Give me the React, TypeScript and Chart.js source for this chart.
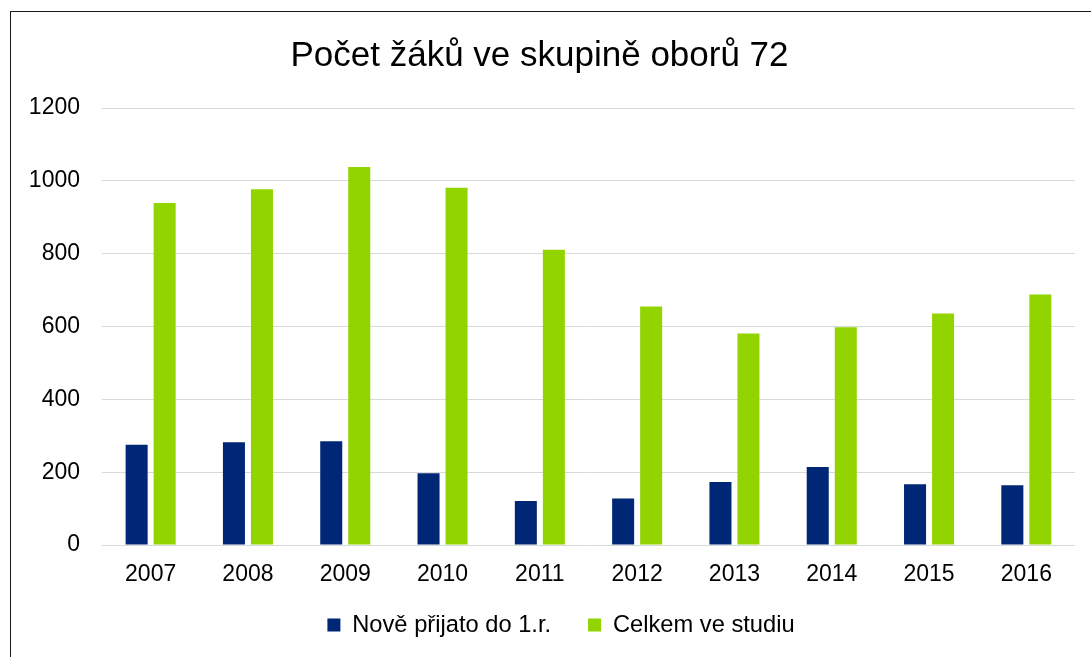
import React, { useEffect, useRef } from "react";
import { Chart, registerables } from "chart.js";

Chart.register(...registerables);

const title = "Počet žáků ve skupině oborů 72";
const years = ["2007", "2008", "2009", "2010", "2011", "2012", "2013", "2014", "2015", "2016"];
const noveLabel = "Nově přijato do 1.r.";
const noveValues = [275, 282, 285, 197, 121, 128, 173, 214, 167, 164];
const celkemLabel = "Celkem ve studiu";
const celkemValues = [939, 977, 1038, 981, 811, 655, 581, 598, 636, 688];
const yMin = 0;
const yMax = 1200;
const yStep = 200;

const FONT = '"Liberation Sans", Arial, sans-serif';
const NAVY = "#002776";
const GREEN = "#92d400";

// Nudge the legend horizontally and let the x labels draw below their (short) box.
const layoutTweak = {
  id: "layoutTweak",
  afterLayout(chart: any) {
    const lg = chart.legend;
    if (lg) {
      lg.left += 21.5;
      lg.right += 21.5;
    }
    const x = chart.scales.x;
    if (x) {
      x.bottom = x.top + 60;
    }
  },
};

export default function App() {
  const ref = useRef<HTMLCanvasElement | null>(null);

  useEffect(() => {
    if (!ref.current) return;
    const chart = new Chart(ref.current, {
      type: "bar",
      data: {
        labels: years,
        datasets: [
          {
            label: noveLabel,
            data: noveValues,
            backgroundColor: NAVY,
            borderWidth: 0,
            categoryPercentage: 0.576,
            barPercentage: 0.786,
          },
          {
            label: celkemLabel,
            data: celkemValues,
            backgroundColor: GREEN,
            borderWidth: 0,
            categoryPercentage: 0.576,
            barPercentage: 0.786,
          },
        ],
      },
      plugins: [layoutTweak],
      options: {
        responsive: false,
        animation: false,
        layout: { padding: { left: 4, right: 16, top: 0, bottom: 10.15 } },
        plugins: {
          title: {
            display: true,
            text: title,
            color: "#000",
            font: { family: FONT, size: 35, weight: "normal" },
            padding: { top: 35, bottom: 31 },
          },
          legend: {
            display: true,
            position: "bottom",
            labels: {
              color: "#000",
              font: { family: FONT, size: 23.7 },
              boxWidth: 13,
              boxHeight: 13,
              padding: 37,
            },
          },
          tooltip: { enabled: false },
        },
        scales: {
          x: {
            grid: { display: false, drawTicks: false },
            border: { display: false },
            ticks: {
              color: "#000",
              font: { family: FONT, size: 23 },
              padding: 16,
              maxRotation: 0,
            },
            afterFit: (scale: any) => {
              scale.height = 31.15;
            },
          },
          y: {
            min: yMin,
            max: yMax,
            grid: { color: "#d9d9d9", lineWidth: 1, drawTicks: false },
            border: { display: false },
            ticks: {
              stepSize: yStep,
              color: "#000",
              font: { family: FONT, size: 23 },
              padding: 22,
              callback: (v: any) => String(v),
            },
            afterFit: (scale: any) => {
              scale.width = 98;
            },
          },
        },
      },
    });
    return () => chart.destroy();
  }, []);

  return (
    <>
      <div
        style={{
          position: "fixed",
          left: 10,
          top: 11,
          width: 1081,
          height: 646,
          borderLeft: "1px solid #1a1a1a",
          borderTop: "1px solid #1a1a1a",
          boxSizing: "border-box",
        }}
      />
      <canvas
        ref={ref}
        width={1091}
        height={657}
        style={{ position: "fixed", left: 0, top: 0, width: 1091, height: 657 }}
      />
    </>
  );
}
